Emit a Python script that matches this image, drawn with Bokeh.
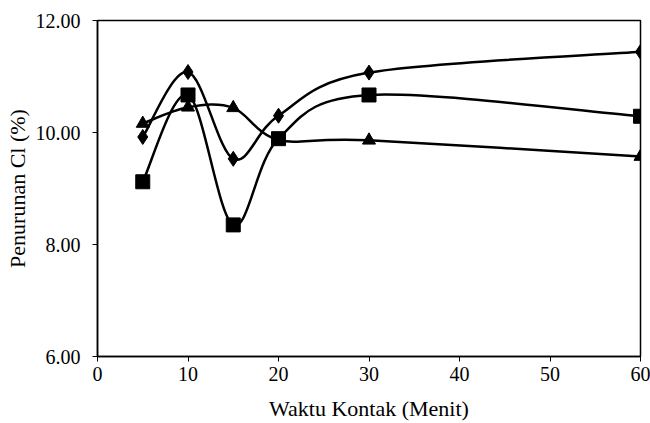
import numpy as np
from bokeh.plotting import figure
from bokeh.models import Range1d, FixedTicker, PrintfTickFormatter
from bokeh.embed import file_html
from bokeh.resources import INLINE

# ---- data ----
x_minutes = [5, 10, 15, 20, 30, 60]
diamond_vals = [9.92, 11.08, 9.53, 10.30, 11.07, 11.44]
square_vals = [9.12, 10.67, 8.35, 9.89, 10.67, 10.29]
triangle_vals = [10.16, 10.45, 10.44, 9.87, 9.86, 9.57]
x_ticks = [0, 10, 20, 30, 40, 50, 60]
y_ticks = [6, 8, 10, 12]

FONT = "Liberation Serif"


def bezier_segments(xs, ys):
    """Catmull-Rom style control points (Excel-like smoothed line)."""
    pts = np.column_stack([xs, ys]).astype(float)
    P = np.vstack([pts[0], pts, pts[-1]])
    segs = {k: [] for k in ("x0", "y0", "x1", "y1", "cx0", "cy0", "cx1", "cy1")}
    for i in range(len(pts) - 1):
        p0, p1, p2, p3 = P[i], P[i + 1], P[i + 2], P[i + 3]
        c1 = p1 + (p2 - p0) / 6.0
        c2 = p2 - (p3 - p1) / 6.0
        segs["x0"].append(p1[0]); segs["y0"].append(p1[1])
        segs["x1"].append(p2[0]); segs["y1"].append(p2[1])
        segs["cx0"].append(c1[0]); segs["cy0"].append(c1[1])
        segs["cx1"].append(c2[0]); segs["cy1"].append(c2[1])
    return segs


p = figure(width=650, height=423, output_backend="svg", toolbar_location=None,
           x_range=Range1d(0, 60), y_range=Range1d(6, 12),
           min_border_left=97, min_border_right=10, min_border_top=20,
           min_border_bottom=67)
p.background_fill_color = "white"
p.border_fill_color = "white"
p.outline_line_color = "black"
p.outline_line_width = 1.5
p.xgrid.visible = False
p.ygrid.visible = False

series = [(diamond_vals, "diamond", 15), (square_vals, "square", 14),
          (triangle_vals, "triangle", 13)]
for vals, marker, size in series:
    s = bezier_segments(x_minutes, vals)
    p.bezier(x0=s["x0"], y0=s["y0"], x1=s["x1"], y1=s["y1"],
             cx0=s["cx0"], cy0=s["cy0"], cx1=s["cx1"], cy1=s["cy1"],
             line_color="black", line_width=2.5)
for vals, marker, size in series:
    p.scatter(x_minutes, vals, marker=marker, size=size,
              fill_color="black", line_color="black")

for ax in (p.xaxis[0], p.yaxis[0]):
    ax.axis_line_color = "black"
    ax.axis_line_width = 1.5
    ax.major_tick_line_color = "black"
    ax.major_tick_in = 0
    ax.minor_tick_line_color = None
    ax.major_label_text_font = FONT
    ax.major_label_text_font_size = "20px"
    ax.major_label_text_color = "black"
    ax.axis_label_text_font = FONT
    ax.axis_label_text_font_size = "22px"
    ax.axis_label_text_font_style = "normal"
    ax.axis_label_text_color = "black"

p.xaxis.ticker = FixedTicker(ticks=x_ticks)
p.yaxis.ticker = FixedTicker(ticks=y_ticks)
p.yaxis.formatter = PrintfTickFormatter(format="%.2f")
p.xaxis.major_tick_out = 5
p.yaxis.major_tick_out = 5
p.xaxis.major_label_standoff = 5
p.yaxis.major_label_standoff = 12
p.xaxis.axis_label = "Waktu Kontak (Menit)"
p.yaxis.axis_label = "Penurunan Cl (%)"
p.xaxis.axis_label_standoff = 12
p.yaxis.axis_label_standoff = 3

open("out.html", "w").write(file_html(p, INLINE))
